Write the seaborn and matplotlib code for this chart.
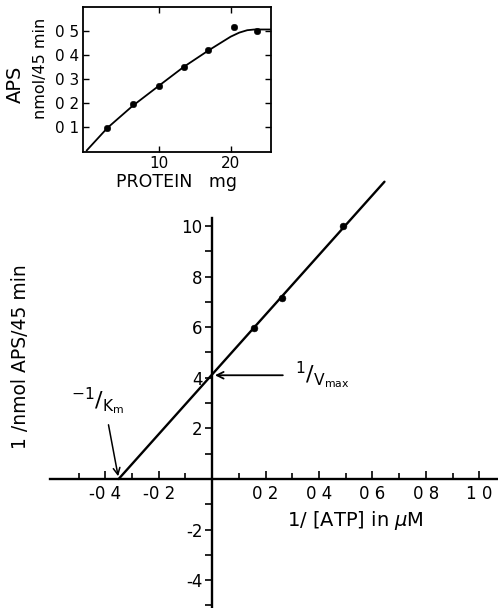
import numpy as np
import pandas as pd
import matplotlib
matplotlib.use("Agg")
import matplotlib.pyplot as plt
import seaborn as sns
from matplotlib.ticker import FixedLocator

sns.set_theme(style="white")
plt.rcParams['font.family'] = ['DejaVu Sans']
plt.rcParams['text.color'] = 'black'
plt.rcParams['xtick.color'] = 'black'
plt.rcParams['ytick.color'] = 'black'
plt.rcParams['axes.labelcolor'] = 'black'

# ---- inset data (protein dependence) ----
protein_mg = [2.9, 6.4, 10.0, 13.5, 16.9, 20.4, 23.6]
aps_nmol = [0.096, 0.193, 0.27, 0.35, 0.42, 0.517, 0.50]
curve_protein = [0.0, 2.9, 6.4, 10.0, 13.5, 16.9, 18.5, 20.0, 21.2, 22.3, 23.3, 25.6]
curve_aps = [0.0, 0.095, 0.187, 0.27, 0.35, 0.418, 0.448, 0.476, 0.493, 0.503, 0.506, 0.506]
inset_xticks = [10, 20]
inset_yticks = [0.1, 0.2, 0.3, 0.4, 0.5]
inset_ylabels = ["0 1", "0 2", "0 3", "0 4", "0 5"]

# ---- main double-reciprocal data ----
inv_atp = [0.157, 0.26, 0.49]
inv_v = [5.97, 7.15, 10.0]
line_x = [-0.35, 0.645]
line_y = [0.0, 11.75]
x_major = [-0.4, -0.2, 0.2, 0.4, 0.6, 0.8, 1.0]
x_major_labels = ["-0 4", "-0 2", "0 2", "0 4", "0 6", "0 8", "1 0"]
x_minor = [-0.5, -0.3, -0.1, 0.1, 0.3, 0.5, 0.7, 0.9]
y_major = [-4, -2, 2, 4, 6, 8, 10]
y_major_labels = ["-4", "-2", "2", "4", "6", "8", "10"]
y_minor = [-5, -3, -1, 1, 3, 5, 7, 9]
intercept_y = 4.1
intercept_x = -0.35

fig = plt.figure(figsize=(4.98, 6.08), dpi=100)

# ================= main axes =================
ax = fig.add_axes([50/498, 0.0, 448/498, 1 - 175.4/608])
main_df = pd.DataFrame({"x": inv_atp, "y": inv_v})
line_df = pd.DataFrame({"x": line_x, "y": line_y})
sns.lineplot(data=line_df, x="x", y="y", ax=ax, color="black", lw=1.7, clip_on=False)
sns.scatterplot(data=main_df, x="x", y="y", ax=ax, color="black", s=24, edgecolor="black", zorder=3)
ax.set_xlim(-0.607, 1.07)
ax.set_ylim(-5.1, 12.0)
for s in ["top", "right"]:
    ax.spines[s].set_visible(False)
ax.spines["left"].set_position(("data", 0))
ax.spines["bottom"].set_position(("data", 0))
ax.spines["left"].set_bounds(-5.1, 10.3)
for s in ["left", "bottom"]:
    ax.spines[s].set_linewidth(1.7)
    ax.spines[s].set_color("black")
ax.xaxis.set_major_locator(FixedLocator(x_major))
ax.xaxis.set_minor_locator(FixedLocator(x_minor))
ax.set_xticklabels(x_major_labels)
ax.yaxis.set_major_locator(FixedLocator(y_major))
ax.yaxis.set_minor_locator(FixedLocator(y_minor))
ax.set_yticklabels(y_major_labels)
ax.tick_params(axis="x", which="both", direction="in", length=6, width=1.2,
               labelsize=12, pad=4, bottom=True)
ax.tick_params(axis="x", which="minor", length=4.5)
ax.tick_params(axis="y", which="both", direction="out", length=5, width=1.2,
               labelsize=12, pad=2, left=True)
ax.set_xlabel("")
ax.set_ylabel("")
fig.text(20/498, 1 - 357/608, "1 /nmol APS/45 min", rotation=90, ha="center", va="center",
         fontsize=13.5)
fig.text(355/498, 1 - 520/608, "1/ [ATP] in $\\mu$M", ha="center", va="center", fontsize=14)

# annotations
ax.annotate("", xy=(0.0, intercept_y), xytext=(0.275, intercept_y),
            arrowprops=dict(arrowstyle="->", color="black", lw=1.3))
ax.text(0.31, intercept_y, "$^{1}/_{\\mathrm{V_{max}}}$", fontsize=16, ha="left", va="center")
ax.annotate("", xy=(intercept_x, 0.0), xytext=(-0.39, 2.25),
            arrowprops=dict(arrowstyle="->", color="black", lw=1.1))
ax.text(-0.53, 3.05, "$^{-1}/_{\\mathrm{K_m}}$", fontsize=16, ha="left", va="center")

# ================= inset =================
ins = fig.add_axes([83/498, 1 - 152/608, 188/498, 145/608])
cur_df = pd.DataFrame({"p": curve_protein, "a": curve_aps})
pts_df = pd.DataFrame({"p": protein_mg, "a": aps_nmol})
sns.lineplot(data=cur_df, x="p", y="a", ax=ins, color="black", lw=1.3)
sns.scatterplot(data=pts_df, x="p", y="a", ax=ins, color="black", s=22, edgecolor="black", zorder=3)
ins.set_xlim(-0.5, 25.6)
ins.set_ylim(-0.006, 0.6)
for s in ins.spines.values():
    s.set_visible(True)
    s.set_color("black")
    s.set_linewidth(1.3)
ins.xaxis.set_major_locator(FixedLocator(inset_xticks))
ins.yaxis.set_major_locator(FixedLocator(inset_yticks))
ins.set_yticklabels(inset_ylabels)
ins.tick_params(axis="both", which="major", direction="in", length=4.5, width=1.0,
                labelsize=11, top=True, right=True, bottom=True, left=True, pad=3)
ins.set_xlabel("PROTEIN   mg", fontsize=12.5, labelpad=1)
ins.set_ylabel("")
fig.text(15/498, 1 - 84/608, "APS", rotation=90, ha="center", va="center", fontsize=14)
fig.text(41/498, 1 - 68/608, "nmol/45 min", rotation=90, ha="center", va="center", fontsize=11.5)

fig.savefig("out.png", dpi=100)
